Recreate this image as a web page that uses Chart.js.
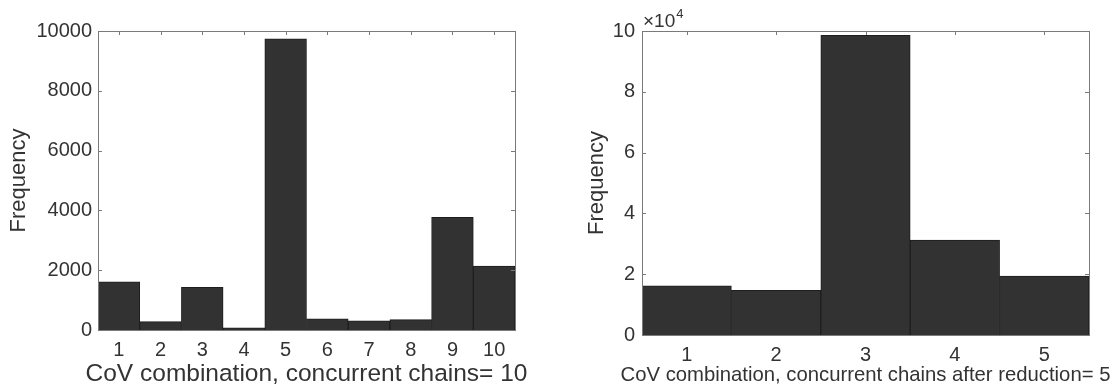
<!DOCTYPE html>
<html>
<head>
    <meta charset="utf-8">
    <title>CoV combination histograms</title>
    <style>
        body {
            margin: 0;
            background: white;
            font-family: "Liberation Sans", Arial, sans-serif;
        }
        .wrap {
            position: relative;
            width: 1117px;
            height: 389px;
        }
        .panel {
            position: absolute;
            top: 0;
            height: 389px;
        }
        #leftPanel { left: 0; width: 560px; }
        #rightPanel { left: 560px; width: 557px; }
    </style>
    <script src="https://cdn.jsdelivr.net/npm/chart.js@4.4.1/dist/chart.umd.min.js"></script>
</head>
<body>
    <div class="wrap">
        <div class="panel" id="leftPanel"><canvas id="leftChart"></canvas></div>
        <div class="panel" id="rightPanel"><canvas id="rightChart"></canvas></div>
    </div>
    <script>
        // left: 10 concurrent chains
        const leftLabels = ['1', '2', '3', '4', '5', '6', '7', '8', '9', '10'];
        const leftFreq = [1615, 280, 1425, 75, 9740, 370, 310, 345, 3765, 2140];
        const leftTicks = [0, 2000, 4000, 6000, 8000, 10000];

        // right: after reduction to 5 chains
        const rightLabels = ['1', '2', '3', '4', '5'];
        const rightFreq = [16200, 14700, 98600, 31200, 19400];
        const rightTicks = [0, 20000, 40000, 60000, 80000, 100000];

        const textColor = '#333';
        const frameColor = '#7a7a7a';
        const barColor = '#323232';
        const family = '"Liberation Sans", Arial, sans-serif';

        Chart.defaults.font.family = family;
        Chart.defaults.color = textColor;

        const fontStr = size => Chart.helpers.toFont({ size: size, family: family }).string;

        // matlab-like box with inward tick marks, x label and exponent
        const boxPlugin = {
            id: 'box',
            afterDraw(chart, args, opts) {
                const {ctx, chartArea: a, scales} = chart;
                ctx.save();
                ctx.strokeStyle = frameColor;
                ctx.lineWidth = 1;
                ctx.strokeRect(a.left + 0.5, a.top + 0.5, a.right - a.left, a.bottom - a.top);
                const len = 4;
                ctx.beginPath();
                scales.x.ticks.forEach((t, i) => {
                    const x = Math.round(scales.x.getPixelForTick(i)) + 0.5;
                    ctx.moveTo(x, a.top);
                    ctx.lineTo(x, a.top + len);
                });
                scales.y.ticks.forEach((t, i) => {
                    const y = Math.round(scales.y.getPixelForTick(i)) + 0.5;
                    ctx.moveTo(a.left, y);
                    ctx.lineTo(a.left + len, y);
                    ctx.moveTo(a.right, y);
                    ctx.lineTo(a.right - len, y);
                });
                ctx.stroke();

                // axis label drawn without width squeeze, it runs past the frame
                ctx.fillStyle = textColor;
                ctx.font = fontStr(opts.xTitleSize);
                ctx.textAlign = 'center';
                ctx.textBaseline = 'middle';
                ctx.fillText(opts.xTitle, (a.left + a.right) / 2, opts.xTitleY);

                if (opts.exponent) {
                    ctx.textAlign = 'left';
                    ctx.textBaseline = 'alphabetic';
                    ctx.font = fontStr(19);
                    ctx.fillText('\u00d710', a.left + 1, 27);
                    const w = ctx.measureText('\u00d710').width;
                    ctx.font = fontStr(13);
                    ctx.fillText(opts.exponent, a.left + 1 + w + 1, 18);
                }
                ctx.restore();
            }
        };

        function makeChart(id, labels, values, yTicks, cfg) {
            return new Chart(document.getElementById(id), {
                type: 'bar',
                data: {
                    labels: labels,
                    datasets: [{
                        data: values,
                        backgroundColor: barColor,
                        borderColor: '#1e1e1e',
                        borderWidth: 1,
                        barPercentage: 1,
                        categoryPercentage: 1
                    }]
                },
                options: {
                    responsive: true,
                    maintainAspectRatio: false,
                    animation: false,
                    layout: { padding: { top: 31, right: cfg.padRight, left: 0, bottom: 0 } },
                    plugins: {
                        legend: { display: false },
                        tooltip: { enabled: false },
                        box: {
                            exponent: cfg.exponent,
                            xTitle: cfg.xTitle,
                            xTitleSize: cfg.xTitleSize,
                            xTitleY: cfg.xTitleY
                        }
                    },
                    scales: {
                        x: {
                            grid: { display: false, drawTicks: false },
                            border: { display: false },
                            ticks: { font: { size: 20 }, padding: cfg.xTickPad, color: textColor },
                            afterFit: s => { s.height = cfg.xHeight; }
                        },
                        y: {
                            min: 0,
                            max: yTicks[yTicks.length - 1],
                            afterBuildTicks: s => { s.ticks = yTicks.map(v => ({ value: v })); },
                            grid: { display: false, drawTicks: false },
                            border: { display: false },
                            ticks: {
                                font: { size: 20 },
                                padding: cfg.yTickPad,
                                color: textColor,
                                callback: v => String(v / cfg.yDiv)
                            },
                            title: {
                                display: true,
                                text: 'Frequency',
                                font: { size: 22 },
                                padding: { top: cfg.yTitlePad, bottom: 0 },
                                color: textColor
                            },
                            afterFit: s => { s.width = cfg.yWidth; }
                        }
                    }
                },
                plugins: [boxPlugin]
            });
        }

        makeChart('leftChart', leftLabels, leftFreq, leftTicks, {
            padRight: 45, xHeight: 59, yWidth: 98, xTickPad: 8, yTickPad: 6,
            xTitle: 'CoV combination, concurrent chains= 10', xTitleSize: 24.5, xTitleY: 374,
            yTitlePad: 6, yDiv: 1, exponent: null
        });

        makeChart('rightChart', rightLabels, rightFreq, rightTicks, {
            padRight: 28, xHeight: 54, yWidth: 82, xTickPad: 8, yTickPad: 7,
            xTitle: 'CoV combination, concurrent chains after reduction= 5', xTitleSize: 20.3, xTitleY: 375,
            yTitlePad: 24, yDiv: 10000, exponent: '4'
        });
    </script>
</body>
</html>
